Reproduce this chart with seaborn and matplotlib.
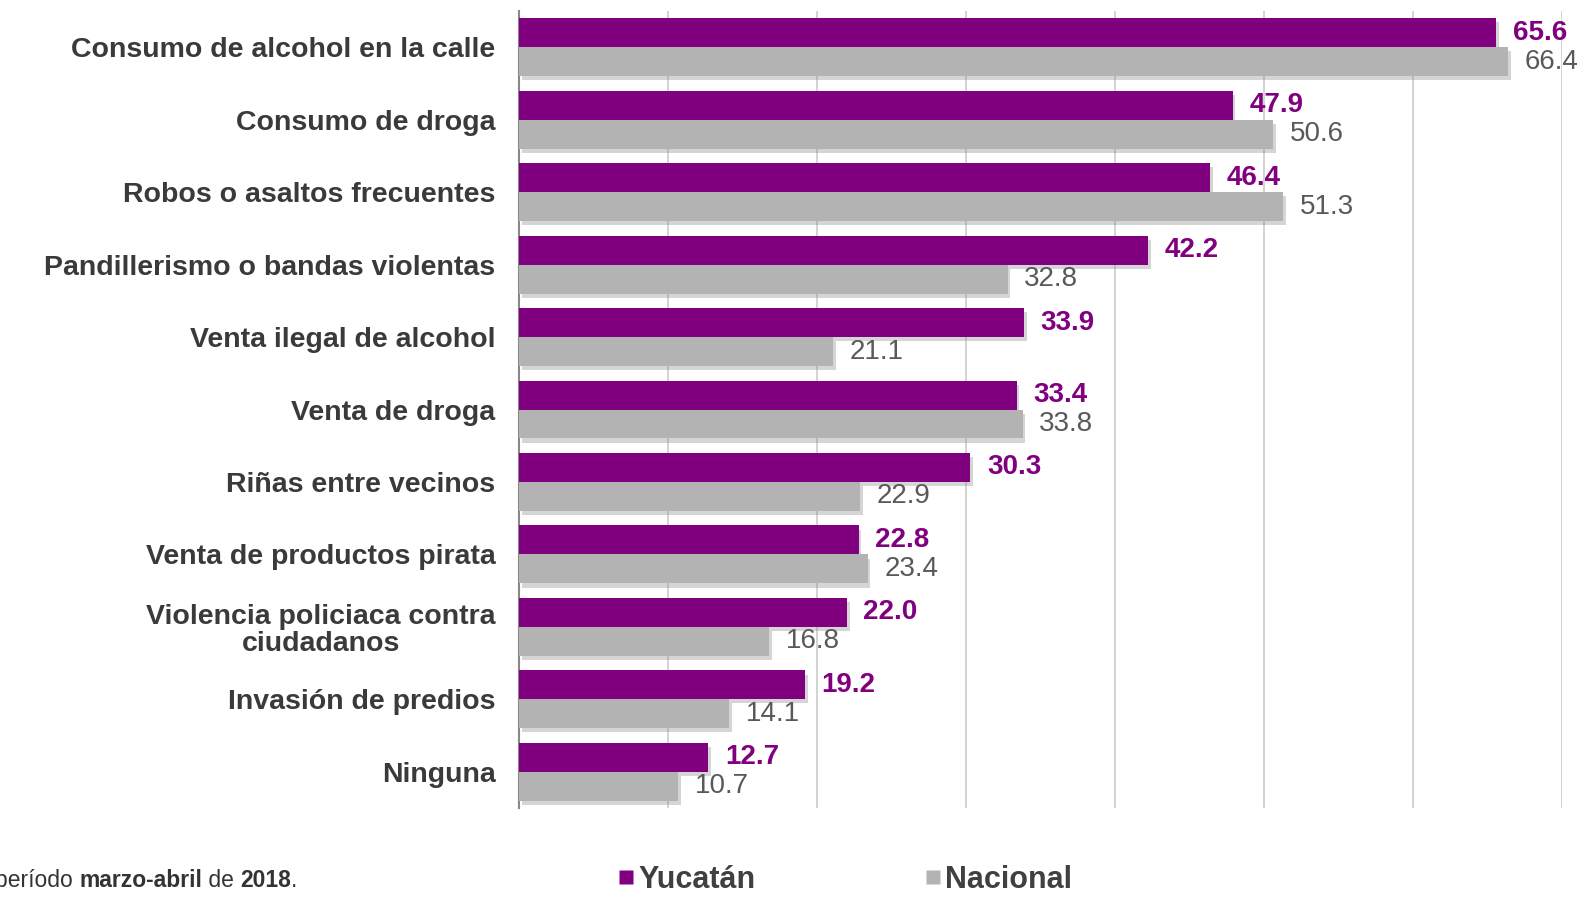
import matplotlib
matplotlib.use("Agg")
import matplotlib.pyplot as plt
import matplotlib.patheffects as pe
from matplotlib.lines import Line2D
import seaborn as sns
import pandas as pd
import numpy as np

categories = [
    "Consumo de alcohol en la calle",
    "Consumo de droga",
    "Robos o asaltos frecuentes",
    "Pandillerismo o bandas violentas",
    "Venta ilegal de alcohol",
    "Venta de droga",
    "Riñas entre vecinos",
    "Venta de productos pirata",
    "Violencia policiaca contra\nciudadanos",
    "Invasión de predios",
    "Ninguna",
]
yucatan = [65.6, 47.9, 46.4, 42.2, 33.9, 33.4, 30.3, 22.8, 22.0, 19.2, 12.7]
nacional = [66.4, 50.6, 51.3, 32.8, 21.1, 33.8, 22.9, 23.4, 16.8, 14.1, 10.7]
series = ["Yucatán", "Nacional"]
colors = ["#800080", "#b3b3b3"]
label_colors = ["#800080", "#595959"]

df = pd.DataFrame({
    "categoria": categories * 2,
    "serie": [series[0]] * len(categories) + [series[1]] * len(categories),
    "valor": yucatan + nacional,
})

sns.set_style("white")
plt.rcParams["font.family"] = ["Liberation Sans", "DejaVu Sans"]

fig = plt.figure(figsize=(15.9, 8.99), dpi=100)
ax = fig.add_axes([519 / 1590, 1 - 808 / 899, (1562 - 519) / 1590, (808 - 11) / 899])

sns.barplot(data=df, y="categoria", x="valor", hue="serie", order=categories,
            hue_order=series, palette=colors, orient="h", width=0.8, dodge=True,
            saturation=1, ax=ax, legend=False, zorder=3)

for patch in ax.patches:
    patch.set_path_effects([pe.SimplePatchShadow(offset=(2, -3), alpha=0.35, shadow_rgbFace="#888888"),
                            pe.Normal()])
    patch.set_edgecolor("none")

for i, cont in enumerate(ax.containers):
    labs = ax.bar_label(cont, fmt="%.1f", padding=12, fontsize=20,
                        color=label_colors[i], fontweight="bold" if i == 0 else "normal")
    for t in labs:
        t.set_va("center")

ax.set_xlim(0, 70)
ax.set_ylim(len(categories) - 0.5, -0.5)
ax.set_xticks(np.arange(10, 71, 10))
ax.set_xticklabels([])
ax.tick_params(axis="x", length=0)
ax.grid(axis="x", color="#cccccc", linewidth=1.2, zorder=0)
ax.grid(axis="y", visible=False)
ax.set_axisbelow(True)
ax.set_xlabel("")
ax.set_ylabel("")

for s in ["top", "right", "bottom"]:
    ax.spines[s].set_visible(False)
ax.spines["left"].set_color("#888888")
ax.spines["left"].set_linewidth(1.5)

ax.set_yticks(np.arange(-0.5, len(categories), 1.0), minor=True)
ax.tick_params(axis="y", which="minor", length=9, width=1.5, color="#888888", direction="out")
ax.tick_params(axis="y", which="major", length=0, pad=17, labelsize=20.5, labelcolor="#3a3a3a")
for lab in ax.get_yticklabels():
    lab.set_fontweight("bold")
    lab.set_multialignment("center")
    lab.set_linespacing(1.05)

# legend
handles = [Line2D([], [], marker="s", linestyle="none", markersize=10, color=c,
                  markeredgecolor="none") for c in colors]
leg = fig.legend(handles, series, loc="center", bbox_to_anchor=(0.532, 0.021), ncol=2,
                 frameon=False, handlelength=0.4, handletextpad=0.2, columnspacing=5.6,
                 prop={"size": 22, "weight": "bold"})
for t in leg.get_texts():
    t.set_color("#404040")

# footnote (mixed weight)
fs = 16.5
t1 = fig.text(-0.003, 0.021, "período ", fontsize=fs, color="#333333", va="center", ha="left")
t2 = ax.annotate("marzo-abril", xy=(1, 0), xycoords=t1, fontsize=fs, fontweight="bold",
                 color="#333333", va="bottom", ha="left", annotation_clip=False)
t3 = ax.annotate(" de ", xy=(1, 0), xycoords=t2, fontsize=fs, color="#333333",
                 va="bottom", ha="left", annotation_clip=False)
t4 = ax.annotate("2018", xy=(1, 0), xycoords=t3, fontsize=fs, fontweight="bold",
                 color="#333333", va="bottom", ha="left", annotation_clip=False)
t5 = ax.annotate(".", xy=(1, 0), xycoords=t4, fontsize=fs, color="#333333",
                 va="bottom", ha="left", annotation_clip=False)

fig.savefig("out.png", dpi=100)
